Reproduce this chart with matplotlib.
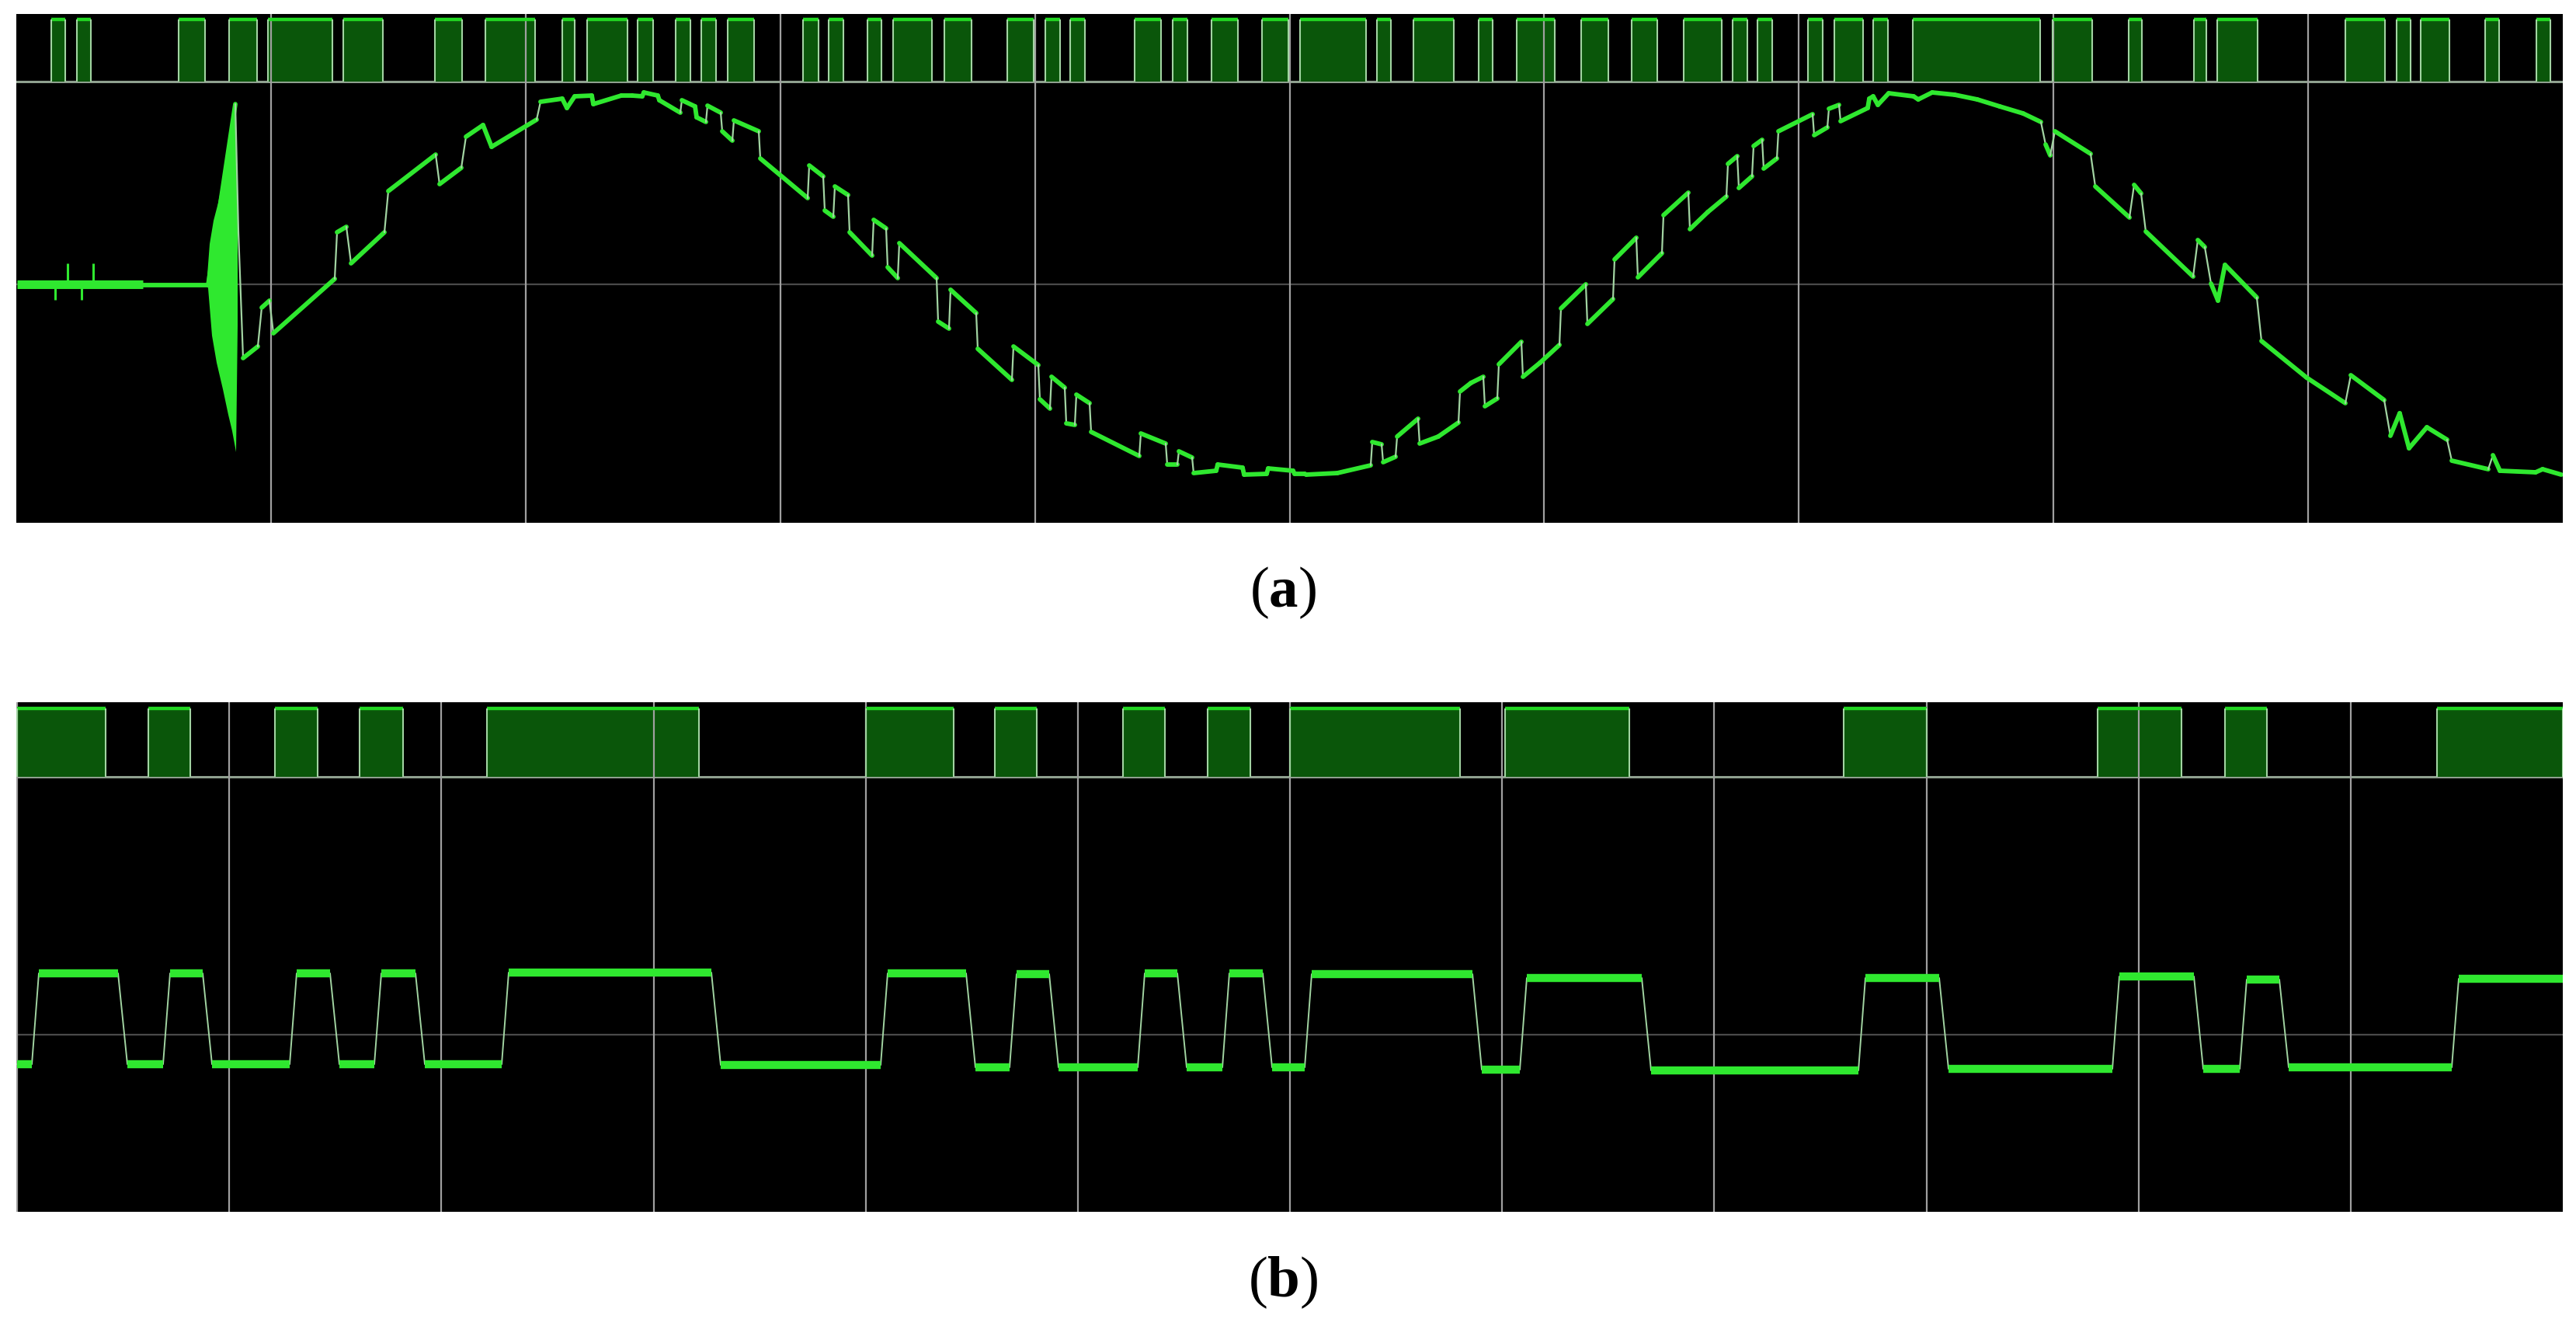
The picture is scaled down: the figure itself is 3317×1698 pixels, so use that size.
import numpy as np
import matplotlib.pyplot as plt
from matplotlib.collections import LineCollection

plt.rcParams['mathtext.fontset'] = 'custom'
plt.rcParams['mathtext.rm'] = 'Liberation Serif'
plt.rcParams['mathtext.bf'] = 'Liberation Serif:bold'

# ---- panel (a): digital channel, pulse start / end (screen time units)
a_pulse_on = [66, 99, 230, 295, 345, 442, 560, 625, 724, 756,
              821, 870, 903, 937, 1034, 1067, 1117, 1150, 1216, 1297,
              1346, 1378, 1461, 1510, 1560, 1625, 1674, 1773, 1820, 1904,
              1953, 2036, 2101, 2168, 2231, 2263, 2328, 2362, 2412, 2463,
              2643, 2741, 2825, 2855, 3020, 3086, 3117, 3200, 3266]
a_pulse_off = [84, 117, 264, 331, 428, 493, 595, 689, 740, 808,
               841, 889, 922, 971, 1054, 1086, 1135, 1200, 1251, 1331,
               1365, 1397, 1495, 1529, 1594, 1659, 1759, 1791, 1872, 1922,
               2002, 2071, 2134, 2217, 2250, 2282, 2347, 2399, 2431, 2627,
               2694, 2758, 2841, 2907, 3071, 3104, 3154, 3218, 3284]

# ---- panel (a): analog trace points (time, screen level; larger = lower)
a_trace = [
    (184, 368), (268, 368), (303, 135), (307, 300), (313, 462), (332, 447), (337, 397), (347, 388), (352, 430), (431, 360),
    (434, 300), (446, 293), (452, 340), (495, 300), (500, 247), (561, 200), (566, 238), (594, 217), (600, 177), (622, 162),
    (633, 190), (691, 155), (696, 132), (724, 128), (730, 140), (740, 125), (762, 124), (764, 135), (800, 124), (814, 124),
    (827, 125), (829, 120), (847, 124), (849, 130), (876, 146), (878, 130), (895, 138), (897, 152), (909, 158), (911, 137),
    (928, 146), (930, 170), (943, 182), (945, 156), (977, 170), (979, 205), (1040, 256), (1042, 214), (1060, 228), (1062, 272),
    (1073, 280), (1075, 241), (1092, 252), (1094, 300), (1123, 330), (1125, 284), (1141, 295), (1143, 345), (1156, 359), (1158, 314),
    (1206, 359), (1208, 415), (1222, 424), (1224, 374), (1257, 404), (1259, 450), (1303, 490), (1305, 447), (1337, 471), (1339, 515),
    (1352, 527), (1354, 486), (1371, 500), (1373, 546), (1384, 548), (1386, 509), (1403, 520), (1405, 557), (1467, 588), (1469, 559),
    (1501, 572), (1503, 599), (1516, 599), (1518, 582), (1535, 590), (1537, 610), (1566, 607), (1568, 599), (1600, 603), (1602, 612),
    (1631, 611), (1633, 604), (1665, 607), (1667, 611), (1680, 611), (1682, 612), (1722, 610), (1765, 600), (1767, 570), (1779, 573),
    (1781, 596), (1797, 589), (1799, 563), (1826, 540), (1828, 572), (1852, 563), (1878, 545), (1880, 505), (1894, 494), (1910, 486),
    (1912, 524), (1928, 514), (1930, 470), (1959, 441), (1961, 486), (1983, 468), (2008, 445), (2010, 398), (2042, 367), (2044, 418),
    (2077, 386), (2079, 335), (2107, 307), (2109, 358), (2140, 327), (2142, 278), (2174, 249), (2176, 296), (2199, 274), (2223, 254),
    (2225, 212), (2237, 202), (2239, 243), (2256, 228), (2258, 189), (2269, 181), (2271, 218), (2288, 205), (2290, 170), (2334, 148),
    (2336, 175), (2353, 165), (2355, 141), (2368, 136), (2370, 157), (2405, 140), (2407, 128), (2412, 125), (2418, 136), (2432, 121),
    (2464, 125), (2470, 129), (2488, 120), (2517, 123), (2546, 129), (2575, 138), (2605, 147), (2628, 158), (2634, 187), (2640, 201),
    (2646, 170), (2692, 199), (2698, 241), (2742, 281), (2748, 239), (2757, 250), (2763, 299), (2824, 357), (2830, 310), (2839, 319),
    (2847, 366), (2856, 388), (2865, 342), (2906, 384), (2912, 440), (2970, 487), (3020, 520), (3027, 484), (3070, 516), (3078, 562),
    (3090, 533), (3102, 578), (3125, 551), (3151, 567), (3157, 594), (3204, 605), (3210, 587), (3219, 607), (3265, 609), (3274, 605),
    (3298, 612),
]

# idle noise band, small spikes and the start-up burst in (a)
a_idle_t = [22, 184]
a_idle_v = 367
a_spike_t = [71, 87, 105, 120]
a_spike_v = [387, 340, 387, 340]
a_burst_t = [266, 270, 275, 281, 287, 292, 296, 300, 303, 306, 306, 304,
             299, 294, 287, 279, 273, 268]
a_burst_v = [368, 315, 285, 262, 232, 205, 175, 150, 133, 250, 420, 583,
             556, 535, 502, 468, 433, 372]

# ---- panel (b): digital channel
b_pulse_on = [22, 191, 354, 463, 627, 1115, 1281, 1446, 1555, 1661, 1938,
              2374, 2701, 2865, 3138]
b_pulse_off = [136, 245, 409, 519, 900, 1228, 1335, 1500, 1610, 1880, 2098,
               2481, 2809, 2919, 3300]
# analog levels of (b): high plateau per pulse, low plateau after each pulse
b_high = [1254, 1254, 1254, 1254, 1253, 1254, 1255, 1254, 1254, 1255, 1260,
          1260, 1258, 1262, 1261]
b_low_start = 1371
b_low = [1371, 1371, 1371, 1371, 1372, 1375, 1375, 1375, 1375, 1378, 1379,
         1377, 1377, 1375]
b_rise_delay, b_rise_len = 19, 9
b_fall_delay, b_fall_len = 16, 12

W, H = 3317, 1699
GREEN = '#2fe82f'
EDGE = '#a2d4a2'
FILL = '#0a560a'
LOWLINE = '#8fa08f'
GRID = '#a0a0a0'
MID = '#4a4a4a'

fig = plt.figure(figsize=(W / 100, H / 100), dpi=100)
fig.patch.set_facecolor('white')


def panel(top, bottom):
    ax = fig.add_axes([21 / W, 1 - bottom / H, (3300 - 21) / W, (bottom - top) / H])
    ax.set_facecolor('black')
    ax.set_xlim(21, 3300)
    ax.set_ylim(bottom, top)
    ax.set_xticks([])
    ax.set_yticks([])
    for s in ax.spines.values():
        s.set_visible(False)
    return ax


def strip(ax, on, off, hi, lo):
    ax.plot([21, 3300], [lo, lo], color=LOWLINE, lw=2.2, zorder=2)
    for s, e in zip(on, off):
        ax.fill_between([s, e], hi, lo, color=FILL, lw=0, zorder=2)
    ax.hlines([hi] * len(on), on, off, colors='#22d622', lw=3.2, zorder=3)
    edges = list(on) + list(off)
    ax.vlines(edges, [hi] * len(edges), [lo] * len(edges), colors=EDGE, lw=1.5, zorder=3)


# ---------------- (a)
ax1 = panel(19, 674)
for x in np.linspace(21, 3300, 11)[1:-1]:
    ax1.axvline(x, color=GRID, lw=1.6, zorder=2.5)
ax1.axhline(367, color=MID, lw=1.6, zorder=1)
strip(ax1, a_pulse_on, a_pulse_off, 26, 106)

ax1.plot(a_idle_t, [a_idle_v] * 2, color=GREEN, lw=8, solid_capstyle='butt', zorder=4)
ax1.vlines(a_spike_t, [a_idle_v] * len(a_spike_t), a_spike_v, colors=GREEN, lw=2.2, zorder=4)
ax1.fill(a_burst_t, a_burst_v, color=GREEN, lw=0, zorder=4)

pts = np.array(a_trace, dtype=float)
segs = np.stack([pts[:-1], pts[1:]], axis=1)
dx = np.abs(np.diff(pts[:, 0]))
dy = np.abs(np.diff(pts[:, 1]))
steep = (dx <= 8) & (dy > 15)
lc = LineCollection(segs, linewidths=np.where(steep, 1.6, 4.2),
                    colors=[EDGE if s else GREEN for s in steep],
                    capstyle='round', joinstyle='round', zorder=4)
ax1.add_collection(lc)

# ---------------- (b)
ax2 = panel(905, 1561)
for x in np.linspace(22, 3300, 13)[:-1]:
    ax2.axvline(x, color=GRID, lw=1.6, zorder=2.5)
ax2.axhline(1333, color=MID, lw=1.6, zorder=1)
strip(ax2, b_pulse_on, b_pulse_off, 913, 1001)

bx, by = [22], [b_low_start]
prev_low = b_low_start
plateaus = []
last_x = 22
for i, (s, e) in enumerate(zip(b_pulse_on, b_pulse_off)):
    r0, r1 = s + b_rise_delay, s + b_rise_delay + b_rise_len
    bx += [r0, r1]
    by += [prev_low, b_high[i]]
    plateaus.append((last_x, r0, prev_low))
    if i < len(b_low):
        f0, f1 = e + b_fall_delay, e + b_fall_delay + b_fall_len
        bx += [f0, f1]
        by += [b_high[i], b_low[i]]
        plateaus.append((r1, f0, b_high[i]))
        prev_low = b_low[i]
        last_x = f1
    else:
        bx.append(3300)
        by.append(b_high[i])
        plateaus.append((r1, 3300, b_high[i]))

ax2.plot(bx, by, color=EDGE, lw=1.4, zorder=4)
for x0, x1, lev in plateaus:
    ax2.plot([x0, x1], [lev, lev], color=GREEN, lw=7.5, solid_capstyle='butt', zorder=5)

fig.text(1652 / W, 1 - 763 / H, r'$\mathrm{(}\mathbf{a}\mathrm{)}$',
         ha='center', va='center', fontsize=54, color='black')
fig.text(1652 / W, 1 - 1651 / H, r'$\mathrm{(}\mathbf{b}\mathrm{)}$',
         ha='center', va='center', fontsize=54, color='black')

fig.savefig('out.png', dpi=100, facecolor='white')
